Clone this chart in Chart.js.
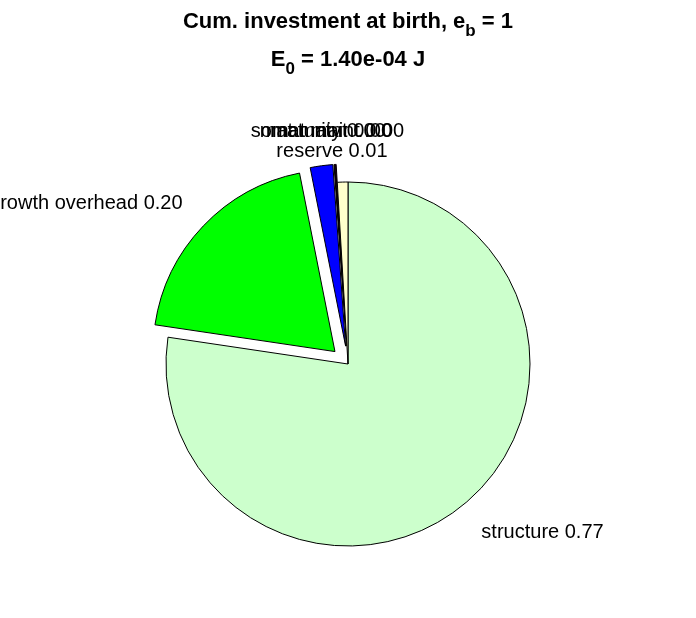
<!DOCTYPE html>
<html><head><meta charset="utf-8">
<script src="https://cdn.jsdelivr.net/npm/chart.js@4"></script>
<style>html,body{margin:0;padding:0;background:#fff;} canvas{display:block;}</style>
</head><body>
<canvas id="c" width="696" height="618"></canvas>
<script>
// ---- data ----
const categories = ['structure', 'growth overhead', 'reserve', 'mat maint', 'maturity', 'somat maint', ''];
const shares = [0.7736, 0.1953, 0.0200, 0.0006, 0.0006, 0.0006, 0.0094];
const printedValues = ['0.77', '0.20', '0.01', '0.00', '0.00', '0.00', ''];
const exploded = [false, true, true, true, true, true, false];
const titleLine1 = [['Cum. investment at birth, e', false], ['b', true], [' = 1', false]];
const titleLine2 = [['E', false], ['0', true], [' = 1.40e-04 J', false]];

// ---- style ----
const sliceColors = ['#CCFFCC', '#00FF00', '#0000FF', '#800000', '#FF0000', '#FF00FF', '#FFFFCC'];
const FONT = '"Liberation Sans", Arial, Helvetica, sans-serif';
const EXPLODE = 18;

// translate exploded arcs outward along their mid angle (library draws the arc)
const explodePlugin = {
  id: 'explode',
  beforeDatasetsDraw(chart) {
    const meta = chart.getDatasetMeta(0);
    meta.data.forEach((arc, i) => {
      if (!exploded[i] || arc._explodePatched) return;
      const orig = arc.draw;
      arc.draw = function (ctx, area) {
        const mid = (this.startAngle + this.endAngle) / 2;
        ctx.save();
        ctx.translate(Math.cos(mid) * EXPLODE, Math.sin(mid) * EXPLODE);
        orig.call(this, ctx, area);
        ctx.restore();
      };
      arc._explodePatched = true;
    });
  }
};

const titlePlugin = {
  id: 'richTitle',
  afterDraw(chart) {
    const ctx = chart.ctx;
    const drawRich = (parts, cx, baseY, size) => {
      const subSize = Math.round(size * 0.75);
      const widths = parts.map(([t, sub]) => {
        ctx.font = `bold ${sub ? subSize : size}px ${FONT}`;
        return ctx.measureText(t).width;
      });
      const total = widths.reduce((a, b) => a + b, 0);
      let x = cx - total / 2;
      parts.forEach(([t, sub], k) => {
        ctx.font = `bold ${sub ? subSize : size}px ${FONT}`;
        ctx.fillText(t, x, sub ? baseY + size * 0.36 : baseY);
        x += widths[k];
      });
    };
    ctx.save();
    ctx.fillStyle = '#000';
    ctx.textAlign = 'left';
    ctx.textBaseline = 'alphabetic';
    const cx = chart.width / 2;
    drawRich(titleLine1, cx, 28, 22);
    drawRich(titleLine2, cx, 66, 22);
    ctx.restore();
  }
};

const pieLabels = {
  id: 'pieLabels',
  afterDatasetsDraw(chart) {
    const ctx = chart.ctx;
    const meta = chart.getDatasetMeta(0);
    ctx.save();
    ctx.font = `20px ${FONT}`;
    ctx.fillStyle = '#000';
    ctx.textBaseline = 'middle';
    ctx.textAlign = 'center';
    const lineH = 20;
    const placed = [];
    const isTiny = i => shares[i] < 0.005;
    const order = meta.data.map((_, i) => i).sort((a, b) => (isTiny(a) ? 0 : 1) - (isTiny(b) ? 0 : 1));
    for (const i of order) {
      if (!categories[i]) continue;
      const txt = categories[i] + ' ' + printedValues[i];
      const arc = meta.data[i];
      const p = arc.getProps(['x', 'y', 'startAngle', 'endAngle', 'outerRadius'], true);
      const off = exploded[i] ? EXPLODE : 0;
      const mid = (p.startAngle + p.endAngle) / 2;
      const c = Math.cos(mid), s = Math.sin(mid);
      const ax = p.x + c * off + c * 1.2 * p.outerRadius;
      const ay = p.y + s * off + s * 1.2 * p.outerRadius + 3;
      const w = ctx.measureText(txt).width;
      let cx = ax + Math.sign(c) * (w / 2) * Math.min(1, 1.3 * Math.abs(c));
      let cy = ay;
      if (!isTiny(i)) {
        for (const b of placed) {
          if (Math.abs(cx - b.cx) < (w + b.w) / 2 && Math.abs(cy - b.cy) < lineH) {
            cx = b.cx + 6; cy = b.cy + lineH;
          }
        }
      }
      placed.push({ cx, cy, w });
      ctx.fillText(txt, cx, cy);
    }
    ctx.restore();
  }
};

new Chart(document.getElementById('c'), {
  type: 'pie',
  data: {
    labels: categories,
    datasets: [{
      data: shares,
      backgroundColor: sliceColors,
      borderColor: '#000',
      borderWidth: 1
    }]
  },
  options: {
    responsive: false,
    animation: false,
    radius: 182,
    layout: { padding: { top: 110, bottom: 0, left: 0, right: 0 } },
    plugins: { legend: { display: false }, tooltip: { enabled: false }, title: { display: false } }
  },
  plugins: [explodePlugin, pieLabels, titlePlugin]
});
</script>
</body></html>
